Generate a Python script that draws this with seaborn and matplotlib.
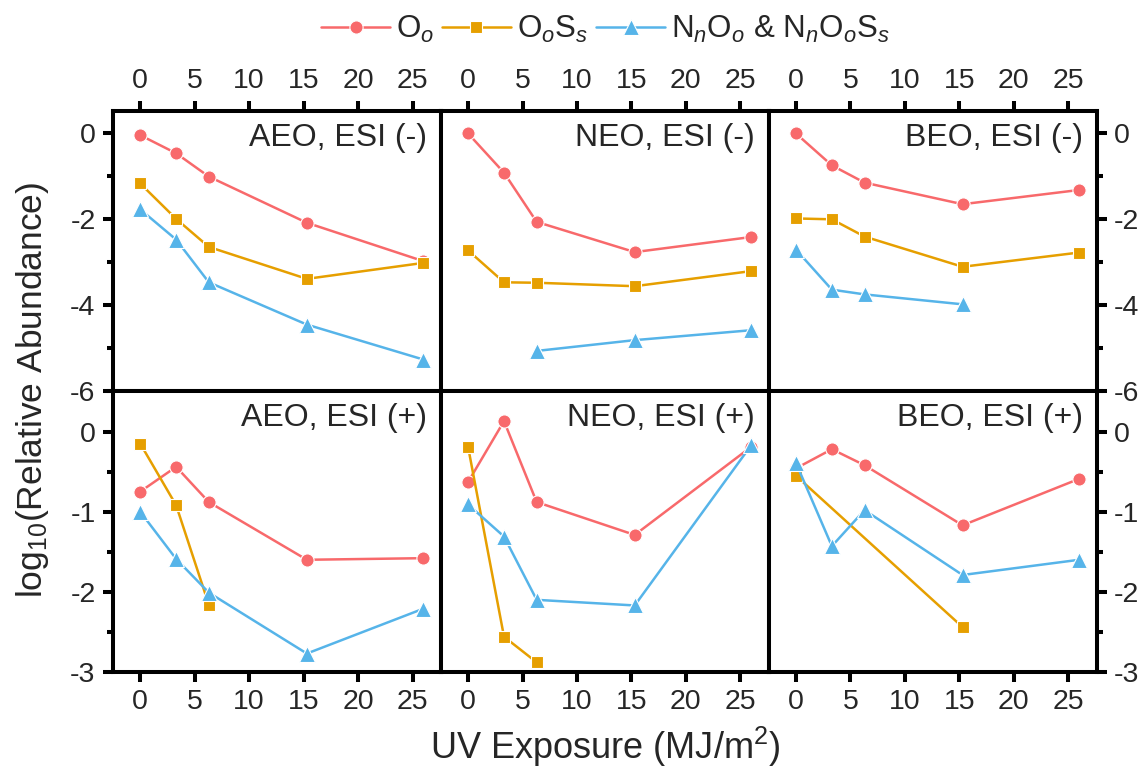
import numpy as np
import pandas as pd
import matplotlib
matplotlib.use("Agg")
import matplotlib.pyplot as plt
from matplotlib.ticker import MultipleLocator
from matplotlib.lines import Line2D
import seaborn as sns

# ---------------- data ----------------
uv = [0, 3.3, 6.3, 15.3, 26.0]
series_keys = ["O", "OS", "N"]
series_labels = [r"O$_{\mathit{o}}$",
                 r"O$_{\mathit{o}}$S$_{\mathit{s}}$",
                 r"N$_{\mathit{n}}$O$_{\mathit{o}}$ & N$_{\mathit{n}}$O$_{\mathit{o}}$S$_{\mathit{s}}$"]
nan = np.nan

aeo_neg_O = [-0.06, -0.48, -1.02, -2.09, -2.98]
aeo_neg_OS = [-1.18, -2.00, -2.65, -3.39, -3.02]
aeo_neg_N = [-1.78, -2.48, -3.47, -4.45, -5.26]

neo_neg_O = [-0.02, -0.93, -2.07, -2.77, -2.42]
neo_neg_OS = [-2.73, -3.47, -3.48, -3.56, -3.21]
neo_neg_N = [nan, nan, -5.06, -4.81, -4.58]

beo_neg_O = [-0.02, -0.76, -1.16, -1.66, -1.33]
beo_neg_OS = [-1.99, -2.01, -2.41, -3.11, -2.78]
beo_neg_N = [-2.71, -3.64, -3.75, -3.98, nan]

aeo_pos_O = [-0.75, -0.44, -0.88, -1.60, -1.58]
aeo_pos_OS = [-0.15, -0.92, -2.16, nan, nan]
aeo_pos_N = [-1.00, -1.59, -2.01, -2.77, -2.21]

neo_pos_O = [-0.63, 0.13, -0.88, -1.29, -0.19]
neo_pos_OS = [-0.19, -2.56, -2.88, nan, nan]
neo_pos_N = [-0.91, -1.31, -2.10, -2.17, -0.17]

beo_pos_O = [-0.46, -0.22, -0.42, -1.17, -0.59]
beo_pos_OS = [-0.55, nan, nan, -2.44, nan]
beo_pos_N = [-0.39, -1.43, -0.98, -1.79, -1.60]

panel_titles = [["AEO, ESI (-)", "NEO, ESI (-)", "BEO, ESI (-)"],
                ["AEO, ESI (+)", "NEO, ESI (+)", "BEO, ESI (+)"]]
panel_data = [[(aeo_neg_O, aeo_neg_OS, aeo_neg_N),
               (neo_neg_O, neo_neg_OS, neo_neg_N),
               (beo_neg_O, beo_neg_OS, beo_neg_N)],
              [(aeo_pos_O, aeo_pos_OS, aeo_pos_N),
               (neo_pos_O, neo_pos_OS, neo_pos_N),
               (beo_pos_O, beo_pos_OS, beo_pos_N)]]

colors = {"O": "#F8696B", "OS": "#E69F00", "N": "#56B4E9"}
markers = {"O": "o", "OS": "s", "N": "^"}
msizes = {"O": 9.5, "OS": 8.5, "N": 12}

# ---------------- style ----------------
sns.set_style("ticks")
plt.rcParams["font.family"] = ["Liberation Sans", "DejaVu Sans"]
plt.rcParams["mathtext.fontset"] = "custom"
plt.rcParams["mathtext.rm"] = "Liberation Sans"
plt.rcParams["mathtext.it"] = "Liberation Sans:italic"
plt.rcParams["axes.unicode_minus"] = False

fig, axes = plt.subplots(2, 3, figsize=(11.47, 7.73), dpi=100, sharex=True)
fig.subplots_adjust(left=0.0985, right=0.956, top=0.8564, bottom=0.1307,
                    hspace=0, wspace=0)

tick_fs = 20.5
for r in range(2):
    for c in range(3):
        ax = axes[r][c]
        vals = panel_data[r][c]
        for key, arr in zip(series_keys, vals):
            df = pd.DataFrame({"uv": uv, "val": arr}).dropna()
            sns.lineplot(data=df, x="uv", y="val", color=colors[key],
                         marker=markers[key], estimator=None, sort=True,
                         legend=False, ax=ax, linewidth=1.8,
                         markersize=msizes[key], markeredgecolor="white",
                         markeredgewidth=0.8)
        ax.set_xlim(-2.5, 27.6)
        if r == 0:
            ax.set_ylim(-6, 0.5)
            ax.yaxis.set_major_locator(MultipleLocator(2))
            ax.yaxis.set_minor_locator(MultipleLocator(1))
        else:
            ax.set_ylim(-3, 0.5)
            ax.yaxis.set_major_locator(MultipleLocator(1))
            ax.yaxis.set_minor_locator(MultipleLocator(0.5))
        ax.xaxis.set_major_locator(MultipleLocator(5))
        ax.set_xlabel("")
        ax.set_ylabel("")
        for sp in ax.spines.values():
            sp.set_linewidth(2.9)
            sp.set_color("black")
        ax.tick_params(which="major", length=7.5, width=2.9, labelsize=tick_fs,
                       pad=5, color="black")
        ax.tick_params(which="minor", length=4, width=2.9, color="black")
        if r == 0:
            ax.tick_params(axis="x", which="both", top=True, labeltop=True,
                           bottom=False, labelbottom=False)
        else:
            ax.tick_params(axis="x", which="both", top=False, labeltop=False,
                           bottom=True, labelbottom=True)
        if c == 0:
            ax.tick_params(axis="y", which="both", left=True, labelleft=True,
                           right=False, labelright=False)
        elif c == 2:
            ax.tick_params(axis="y", which="both", left=False, labelleft=False,
                           right=True, labelright=True)
        else:
            ax.tick_params(axis="y", which="both", left=False, labelleft=False,
                           right=False, labelright=False)
        ax.text(0.958, 0.905, panel_titles[r][c], transform=ax.transAxes,
                ha="right", va="center", fontsize=23)

fig.text(0.528, 0.034, r"UV Exposure (MJ/m$^{2}$)", ha="center", va="center",
         fontsize=26)
fig.text(0.028, 0.495, r"log$_{10}$(Relative Abundance)", ha="center",
         va="center", rotation=90, fontsize=25.5)

handles = [Line2D([], [], color=colors[k], marker=markers[k],
                  markersize=msizes[k], markeredgecolor="white",
                  markeredgewidth=0.8, linewidth=1.8)
           for k in series_keys]
fig.legend(handles, series_labels, loc="center", bbox_to_anchor=(0.528, 0.962),
           ncol=3, frameon=False, fontsize=22.5, handlelength=2.2,
           handletextpad=0.2, columnspacing=0.25, borderaxespad=0)

fig.savefig("out.png", dpi=100)
